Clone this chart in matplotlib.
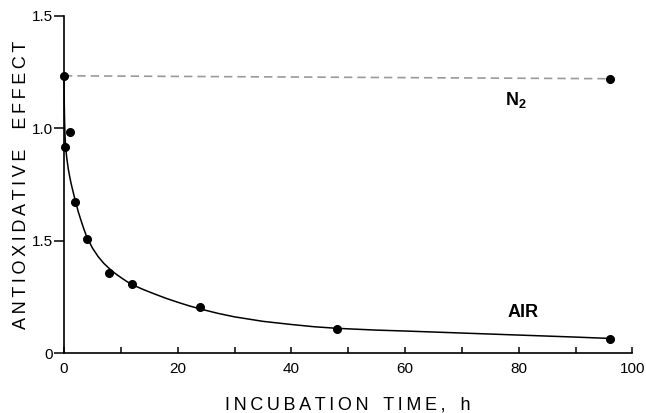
import matplotlib
matplotlib.use("Agg")
import matplotlib.pyplot as plt

plt.rcParams['font.family'] = ['Liberation Sans', 'DejaVu Sans']
plt.rcParams['mathtext.fontset'] = 'custom'
plt.rcParams['mathtext.bf'] = 'Liberation Sans:bold'
plt.rcParams['mathtext.rm'] = 'Liberation Sans'

# measured points, AIR
air_t = [0, 0.25, 1, 2, 4, 8, 12, 24, 48, 96]
air_y = [1.234, 0.919, 0.984, 0.671, 0.508, 0.356, 0.309, 0.205, 0.109, 0.064]

# fitted curve
curve_t = [0, 0.02, 0.05, 0.1, 0.15, 0.2, 0.3, 0.4, 0.5, 0.75, 1, 1.25, 1.5,
           2, 2.5, 3, 3.5, 4, 5, 6, 7, 8, 9, 10, 11, 12, 14, 16, 18, 20, 22,
           24, 27, 30, 35, 40, 44, 48, 55, 60, 70, 80, 90, 96]
curve_y = [1.234, 1.17, 1.10, 1.03, 0.985, 0.955, 0.915, 0.888, 0.865, 0.82,
           0.785, 0.755, 0.728, 0.677, 0.63, 0.59, 0.552, 0.518, 0.468, 0.43,
           0.40, 0.376, 0.355, 0.337, 0.32, 0.305, 0.283, 0.263, 0.244, 0.227,
           0.211, 0.197, 0.178, 0.162, 0.142, 0.128, 0.118, 0.111, 0.103,
           0.099, 0.090, 0.081, 0.072, 0.066]

# N2
n2_t = [0, 96]
n2_y = [1.234, 1.221]

xticks = [0, 20, 40, 60, 80, 100]
xminor = [10, 30, 50, 70, 90]
yticks = [0, 0.5, 1.0, 1.5]
ylabels = ['0', '1.5', '1.0', '1.5']

fig = plt.figure(figsize=(6.46, 4.13), dpi=100)
ax = fig.add_axes([0.0991, 0.1446, 0.8799, 0.8167])

ax.plot(n2_t, n2_y, color='#9a9a9a', lw=1.2, dashes=(5, 3), clip_on=False, zorder=2)
ax.plot(n2_t[-1:], n2_y[-1:], 'o', color='black', ms=5.5, clip_on=False, zorder=3)
ax.plot(curve_t, curve_y, color='black', lw=1.1, clip_on=False, zorder=2)
ax.plot(air_t, air_y, 'o', color='black', ms=5.5, clip_on=False, zorder=3)

ax.text(79.5, 1.126, r'$\mathbf{N_2}$', fontsize=13, ha='center', va='center')
ax.text(80.8, 0.18, 'AIR', fontsize=13, fontweight='bold', ha='center', va='center')

ax.set_xlim(0, 100)
ax.set_ylim(0, 1.5)
ax.spines['top'].set_visible(False)
ax.spines['right'].set_visible(False)
for s in ['left', 'bottom']:
    ax.spines[s].set_linewidth(1.2)

ax.set_xticks(xticks)
ax.set_xticks(xminor, minor=True)
ax.set_yticks(yticks)
ax.set_yticklabels(ylabels)
ax.tick_params(axis='x', which='both', direction='in', length=4, width=1.1, labelsize=11, pad=6)
ax.tick_params(axis='y', direction='out', length=7, width=1.1, labelsize=11, pad=1)

ts = '\u2009'
ax.set_xlabel(ts.join('INCUBATION') + '   ' + ts.join('TIME,') + '   h',
              fontsize=13, labelpad=15)
ax.set_ylabel(ts.join('ANTIOXIDATIVE') + '    ' + ts.join('EFFECT'),
              fontsize=13, labelpad=1)

fig.savefig('out.png', dpi=100)
